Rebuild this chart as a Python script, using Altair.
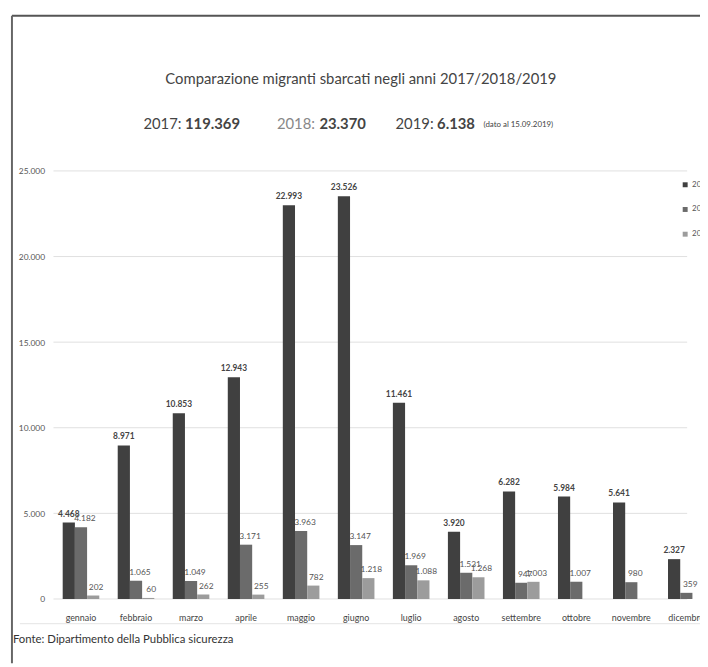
import altair as alt
import pandas as pd

months = ["gennaio", "febbraio", "marzo", "aprile", "maggio", "giugno",
          "luglio", "agosto", "settembre", "ottobre", "novembre", "dicembre"]
v2017 = [4468, 8971, 10853, 12943, 22993, 23526, 11461, 3920, 6282, 5984, 5641, 2327]
v2018 = [4182, 1065, 1049, 3171, 3963, 3147, 1969, 1531, 947, 1007, 980, 359]
v2019 = [202, 60, 262, 255, 782, 1218, 1088, 1268, 1003]
years = ["2017", "2018", "2019"]
colors = ["#404040", "#6b6b6b", "#9c9c9c"]
y_ticks = [0, 5000, 10000, 15000, 20000, 25000]

title_text = "Comparazione migranti sbarcati negli anni 2017/2018/2019"
note_text = "(dato al 15.09.2019)"
source_text = "Fonte: Dipartimento della Pubblica sicurezza"


def it(v):
    return f"{v:,}".replace(",", ".")


rows = []
for yr, vals in zip(years, [v2017, v2018, v2019]):
    for m, v in zip(months, vals):
        rows.append({"mese": m, "anno": yr, "valore": v, "etichetta": it(v)})
df = pd.DataFrame(rows)

W, H = 654, 433
OX, OY = 54, 169  # plot origin in page pixels (for decorations)
FONT = "Lato"

xscale = alt.Scale(domain=months, range=[0, 668], paddingInner=0.335, paddingOuter=0.1675)
yscale = alt.Scale(domain=[0, 25000], nice=False)
yaxis = alt.Axis(values=y_ticks, grid=False, ticks=False, domain=False, title=None,
                 labelExpr="replace(format(datum.value, ','), ',', '.')",
                 labelFontSize=8.5, labelColor="#555", labelPadding=9, labelFont=FONT)
xenc = alt.X("mese:N", scale=xscale, sort=months,
             axis=alt.Axis(title=None, labelAngle=0, ticks=False, domain=False,
                           labelFontSize=9, labelColor="#444", labelPadding=15,
                           labelFont=FONT))
xoff = alt.XOffset("anno:N", scale=alt.Scale(domain=years, paddingInner=0, paddingOuter=0))

grid = alt.Chart(pd.DataFrame({"valore": y_ticks})).mark_rule(color="#e0e0e0", strokeWidth=1).encode(
    y=alt.Y("valore:Q", scale=yscale, axis=yaxis),
    x=alt.value(0), x2=alt.value(641),
)

bars = alt.Chart(df).mark_bar().encode(
    x=xenc,
    xOffset=xoff,
    y=alt.Y("valore:Q", scale=yscale, axis=yaxis),
    color=alt.Color("anno:N", scale=alt.Scale(domain=years, range=colors),
                    legend=alt.Legend(orient="none", legendX=635, legendY=10, title=None,
                                      symbolType="square", symbolSize=25, symbolStrokeWidth=0,
                                      labelFontSize=8, labelColor="#555", labelFont=FONT,
                                      rowPadding=17, labelOffset=3, padding=0)),
)


def labels(yr, dx, weight, color):
    return alt.Chart(df).transform_filter(alt.datum.anno == yr).mark_text(
        dy=-9, dx=dx, fontSize=8.5, fontWeight=weight, color=color, font=FONT, baseline="middle"
    ).encode(x=xenc, xOffset=xoff, y=alt.Y("valore:Q", scale=yscale, axis=yaxis),
             text="etichetta:N")


def txt(t, x, y, size, color="#444", weight="normal", align="left"):
    return alt.Chart(pd.DataFrame({"t": [t]})).mark_text(
        fontSize=size, color=color, fontWeight=weight, align=align, baseline="middle", font=FONT
    ).encode(x=alt.value(x - OX), y=alt.value(y - OY), text="t:N")


def rule(x1, y1, x2, y2, color, width):
    return alt.Chart(pd.DataFrame({"a": [0]})).mark_rule(color=color, strokeWidth=width).encode(
        x=alt.value(x1 - OX), x2=alt.value(x2 - OX), y=alt.value(y1 - OY), y2=alt.value(y2 - OY))


layers = [
    grid, bars,
    labels("2017", 0, "bold", "#444"),
    labels("2018", 4, "normal", "#555"),
    labels("2019", 3, "normal", "#555"),
    txt(title_text, 365, 76, 15, align="center"),
    txt("2017:", 145, 122, 15),
    txt(it(sum(v2017)), 187, 122, 15, weight="bold"),
    txt("2018:", 280, 122, 15, color="#888"),
    txt(it(sum(v2018)), 323, 122, 15, weight="bold"),
    txt("2019:", 400, 122, 15),
    txt(it(sum(v2019)), 442, 122, 15, weight="bold"),
    txt(note_text, 489, 123, 8),
    txt(source_text, 13, 644, 11.5, color="#333"),
    rule(20, 627, 708, 627, "#e4e4e4", 1),
    rule(12, 12, 708, 12, "#555", 2),
    rule(12, 12, 12, 667, "#666", 2),
]

chart = alt.layer(*layers).properties(
    width=W, height=H,
    padding={"left": 46, "top": 161, "right": 0, "bottom": 65},
    autosize=alt.AutoSizeParams(type="none"),
    background="white",
).configure_view(stroke=None)

chart.save("out.html", embed_options={"renderer": "svg", "actions": False})
